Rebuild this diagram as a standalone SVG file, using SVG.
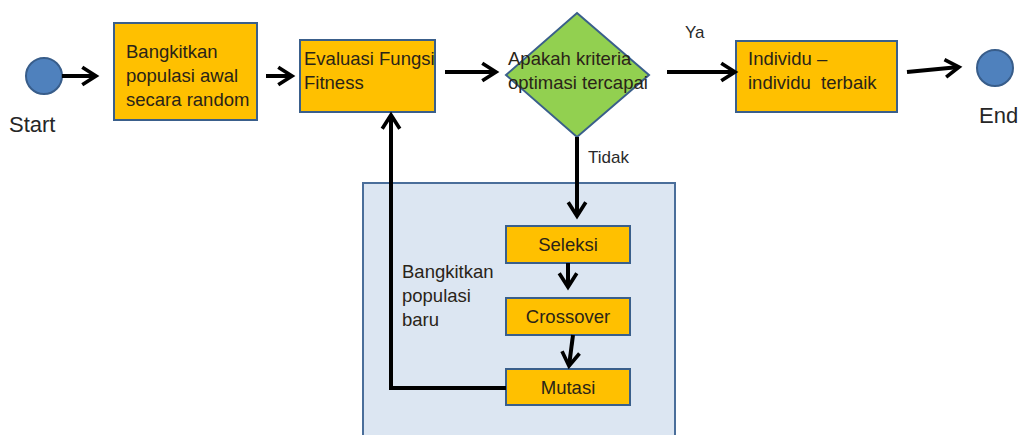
<svg xmlns="http://www.w3.org/2000/svg" width="1024" height="435" viewBox="0 0 1024 435">
  <style>
    .box { fill: #FFC000; stroke: #3A5F8B; stroke-width: 2; }
    .term { fill: #4F81BD; stroke: #385D8A; stroke-width: 2; }
    .dec { fill: #92D050; stroke: #3A5F8B; stroke-width: 2; }
    .group { fill: #DCE6F2; stroke: #4A6E9A; stroke-width: 2; }
    .txt { font-family: "Liberation Sans", Arial, sans-serif; font-size: 18.5px; fill: #2a2418; }
    .lbl { font-family: "Liberation Sans", Arial, sans-serif; font-size: 17px; fill: #2a2a2a; }
    .big { font-family: "Liberation Sans", Arial, sans-serif; font-size: 22px; fill: #262626; }
    .mid { text-anchor: middle; }
    .edge { fill: none; stroke: #000; stroke-width: 4; }
  </style>
  <defs>
    <marker id="open" viewBox="0 0 12 12" refX="10" refY="6" markerWidth="5.5" markerHeight="5.5" markerUnits="strokeWidth" orient="auto">
      <polyline points="2.5,1.2 10,6 2.5,10.8" fill="none" stroke="#000" stroke-width="2" stroke-linejoin="miter"/>
    </marker>
  </defs>

  <rect width="1024" height="435" fill="#fff"/>

  <!-- loop container for genetic operators -->
  <g id="operators">
    <rect class="group" x="363" y="183" width="312" height="260"/>
  </g>

  <g id="start">
    <circle class="term" cx="44" cy="76" r="18"/>
    <text class="big" x="9" y="132">Start</text>
  </g>

  <g id="init">
    <rect class="box" x="114" y="23" width="143" height="97"/>
    <text class="txt" x="126" y="58">Bangkitkan</text>
    <text class="txt" x="126" y="82">populasi awal</text>
    <text class="txt" x="126" y="106">secara random</text>
  </g>

  <g id="evaluate">
    <rect class="box" x="300" y="40" width="135" height="72"/>
    <text class="txt" x="304" y="65">Evaluasi Fungsi</text>
    <text class="txt" x="304" y="89">Fitness</text>
  </g>

  <g id="check">
    <polygon class="dec" points="577,13 649,75 577,137 506,75"/>
    <text class="txt" x="508" y="65">Apakah kriteria</text>
    <text class="txt" x="508" y="89">optimasi tercapai</text>
  </g>

  <g id="best">
    <rect class="box" x="736" y="41" width="161" height="71"/>
    <text class="txt" x="748" y="65">Individu –</text>
    <text class="txt" x="748" y="89" xml:space="preserve">individu  terbaik</text>
  </g>

  <g id="end">
    <circle class="term" cx="995" cy="68" r="18"/>
    <text class="big" x="979" y="123">End</text>
  </g>

  <g id="selection">
    <rect class="box" x="506" y="226" width="124" height="37"/>
    <text class="txt mid" x="568" y="251">Seleksi</text>
  </g>

  <g id="crossover">
    <rect class="box" x="506" y="298" width="124" height="37"/>
    <text class="txt mid" x="568" y="323">Crossover</text>
  </g>

  <g id="mutation">
    <rect class="box" x="506" y="369" width="124" height="36"/>
    <text class="txt mid" x="568" y="394">Mutasi</text>
  </g>

  <g id="loop-label">
    <text class="txt" x="402" y="278">Bangkitkan</text>
    <text class="txt" x="402" y="302">populasi</text>
    <text class="txt" x="402" y="326">baru</text>
  </g>

  <g id="connectors">
    <line class="edge" x1="62" y1="76" x2="96" y2="76" marker-end="url(#open)"/>
    <line class="edge" x1="266" y1="76" x2="292" y2="76" marker-end="url(#open)"/>
    <line class="edge" x1="445" y1="72" x2="496" y2="72" marker-end="url(#open)"/>
    <line class="edge" x1="667" y1="72" x2="735" y2="72" marker-end="url(#open)"/>
    <line class="edge" x1="907" y1="72" x2="959" y2="67" marker-end="url(#open)"/>
    <line class="edge" x1="577" y1="137" x2="577" y2="216" marker-end="url(#open)"/>
    <line class="edge" x1="568" y1="263" x2="568" y2="287" marker-end="url(#open)"/>
    <line class="edge" x1="573" y1="335" x2="569" y2="366" marker-end="url(#open)"/>
    <polyline class="edge" points="506,388 391,388 391,115" marker-end="url(#open)"/>
    <text class="lbl" x="685" y="38">Ya</text>
    <text class="lbl" x="588" y="163">Tidak</text>
  </g>
</svg>
